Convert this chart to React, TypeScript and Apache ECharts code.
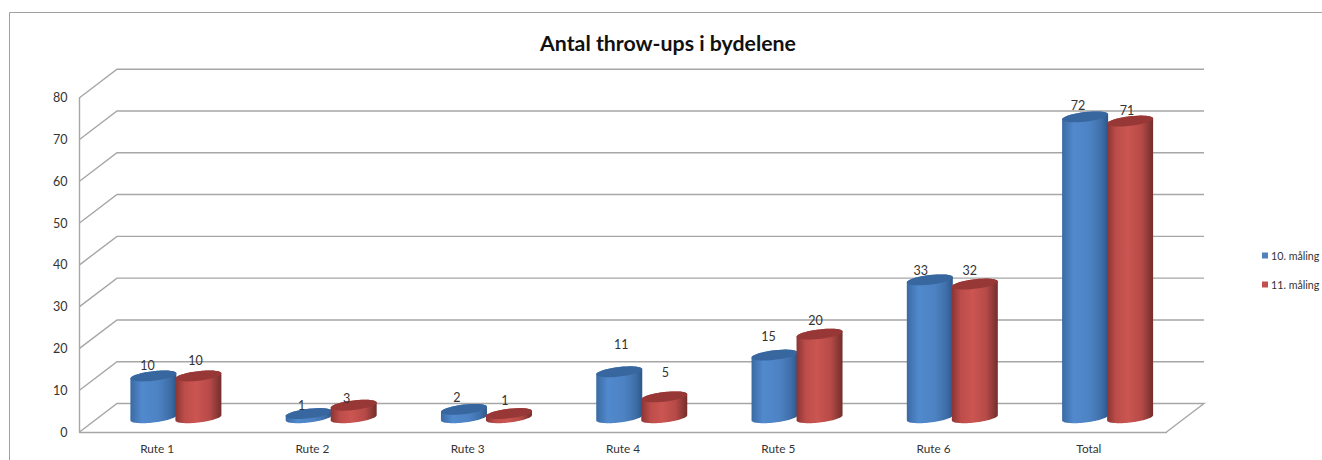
import React, { useEffect, useRef } from "react";
import * as echarts from "echarts";

const categories = ["Rute 1", "Rute 2", "Rute 3", "Rute 4", "Rute 5", "Rute 6", "Total"];
const seriesNames = ["10. måling", "11. måling"];
const maaling10 = [10, 1, 2, 11, 15, 33, 72];
const maaling11 = [10, 3, 1, 5, 20, 32, 71];
const yTicks = [0, 10, 20, 30, 40, 50, 60, 70, 80];

// Hand-placed data labels of the original: [dx, dy] from the top of each cylinder
const labelNudge10 = [[-6, -10], [-7, -8], [-7, -12], [2, -27], [-6, -19], [-9, -9], [-7, -11]];
const labelNudge11 = [[-3, -15], [-7, -7], [-4, -13], [1, -24], [-4, -14], [-5, -14], [-3, -11]];

const FONT = "Lato";
const DEPTH_X = 37.5;
const DEPTH_Y = -28.5;
const RX = 23;
const RY = 4.8;
const SHEAR = 2.6;
const SPREAD = 22.5;
const WALL = "#a6a6a6";

const blueBody = [
  [0, "#3a6aa3"], [0.25, "#5189cd"], [0.6, "#4d83c4"], [0.85, "#3f6fa9"], [1, "#2d578c"],
];
const redBody = [
  [0, "#8a3533"], [0.2, "#bd4d4a"], [0.45, "#cb5551"], [0.75, "#b64a47"], [1, "#722e2c"],
];

function gradient(stops: any[]) {
  return {
    type: "linear", x: 0, y: 0, x2: 1, y2: 0,
    colorStops: stops.map(([offset, color]) => ({ offset, color })),
  };
}

// Outline of a cylinder's end: an ellipse sheared so that its left end sits lower.
function rim(cx: number, cy: number, fromDeg: number, toDeg: number) {
  const pts: number[][] = [];
  const steps = 36;
  for (let k = 0; k <= steps; k++) {
    const a = ((fromDeg + ((toDeg - fromDeg) * k) / steps) * Math.PI) / 180;
    const c = Math.cos(a);
    pts.push([cx + RX * c, cy + RY * Math.sin(a) - SHEAR * c]);
  }
  return pts;
}

function wallRender(params: any, api: any) {
  const r = params.coordSys;
  const y = api.coord([0, api.value(1)])[1];
  const x0 = r.x;
  const x1 = r.x + r.width;
  const points: number[][] = [[x0, y], [x0 + DEPTH_X, y + DEPTH_Y], [x1 + DEPTH_X, y + DEPTH_Y]];
  if (api.value(1) === 0) points.push([x1, y]);
  return {
    type: "polyline",
    shape: { points },
    style: { stroke: WALL, lineWidth: 1.4, fill: "none" },
    silent: true,
  };
}

function cylinderRender(side: number, stops: any[], topColor: string, nudges: number[][]) {
  return (params: any, api: any) => {
    const i = api.value(0);
    const v = api.value(1);
    const top = api.coord([i, v]);
    const base = api.coord([i, 0]);
    const cx = top[0] + DEPTH_X / 2 + side * SPREAD;
    const ty = top[1] + DEPTH_Y / 2;
    const by = base[1] + DEPTH_Y / 2;
    // lower half of the base rim (right to left), then up along the top rim's back half
    const body = [...rim(cx, by, 0, 180), ...rim(cx, ty, 180, 360)];
    const lid = rim(cx, ty, 0, 360);
    const [dx, dy] = nudges[i];
    return {
      type: "group",
      children: [
        { type: "polygon", shape: { points: body }, style: { fill: gradient(stops) } },
        { type: "polygon", shape: { points: lid }, style: { fill: topColor } },
        {
          type: "text",
          style: {
            text: String(v), x: cx + dx, y: ty + dy, align: "center", verticalAlign: "middle",
            font: `12.5px ${FONT}`, fill: "#333333",
          },
        },
      ],
    };
  };
}

export default function App() {
  const ref = useRef<HTMLDivElement>(null);
  useEffect(() => {
    const chart = echarts.init(ref.current!, null, { renderer: "svg", width: 1322, height: 460 });
    chart.setOption({
      animation: false,
      backgroundColor: "#ffffff",
      textStyle: { fontFamily: FONT },
      title: {
        text: "Antal throw-ups i bydelene",
        left: 663, top: 27, textAlign: "center",
        textStyle: { fontFamily: FONT, fontWeight: "bold", fontSize: 21.3, color: "#111111" },
      },
      legend: {
        data: seriesNames,
        orient: "vertical", left: 1257, top: 245,
        icon: "rect", itemWidth: 6, itemHeight: 6, itemGap: 18,
        selectedMode: false,
        textStyle: { fontFamily: FONT, fontSize: 10.7, color: "#333333", padding: [0, 0, 0, -2] },
      },
      grid: { left: 79.5, right: 155.5, top: 97.7, bottom: 28 },
      xAxis: {
        type: "category",
        data: categories,
        axisLine: { lineStyle: { color: WALL, width: 1.4 } },
        axisTick: { show: false },
        axisLabel: { color: "#333333", fontFamily: FONT, fontSize: 11.8, margin: 10 },
      },
      yAxis: {
        type: "value", min: 0, max: 80, interval: 10,
        axisLine: { show: true, lineStyle: { color: WALL, width: 1.4 } },
        axisTick: { show: false },
        splitLine: { show: false },
        axisLabel: { color: "#333333", fontFamily: FONT, fontSize: 12.5, margin: 12 },
      },
      graphic: [
        { type: "line", shape: { x1: 9.5, y1: 12.5, x2: 1322, y2: 12.5 }, style: { stroke: "#a0a0a0", lineWidth: 1 } },
        { type: "line", shape: { x1: 9.5, y1: 12.5, x2: 9.5, y2: 460 }, style: { stroke: "#a0a0a0", lineWidth: 1 } },
      ],
      series: [
        {
          type: "custom", name: "walls", silent: true, z: 1,
          data: yTicks.map((t) => [0, t]),
          renderItem: wallRender,
        },
        {
          type: "custom", name: seriesNames[0], z: 2,
          itemStyle: { color: "#4f81bd" },
          data: maaling10.map((v, i) => [i, v]),
          renderItem: cylinderRender(-1, blueBody, "#38679f", labelNudge10),
        },
        {
          type: "custom", name: seriesNames[1], z: 3,
          itemStyle: { color: "#c0504d" },
          data: maaling11.map((v, i) => [i, v]),
          renderItem: cylinderRender(1, redBody, "#983836", labelNudge11),
        },
      ],
    });
    return () => chart.dispose();
  }, []);
  return <div ref={ref} style={{ position: "absolute", left: 0, top: 0, width: 1322, height: 460 }} />;
}
